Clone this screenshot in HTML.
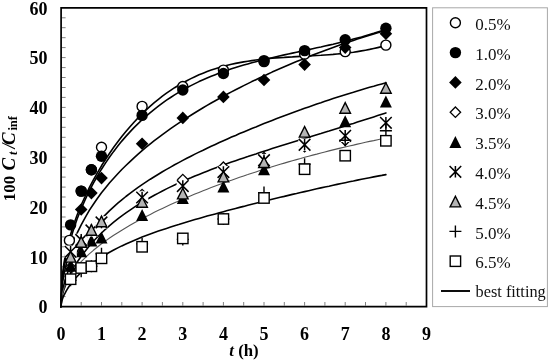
<!DOCTYPE html><html><head><meta charset="utf-8"><style>html,body{margin:0;padding:0;background:#fff;}svg{display:block}</style></head><body>
<svg width="550" height="361" viewBox="0 0 550 361">
<rect x="0" y="0" width="550" height="361" fill="#fff"/>
<path d="M62 296.6h3.6 M62 286.7h3.6 M62 276.7h3.6 M62 266.8h3.6 M62 256.8h3.6 M62 246.8h3.6 M62 236.9h3.6 M62 226.9h3.6 M62 217.0h3.6 M62 207.0h3.6 M62 197.0h3.6 M62 187.1h3.6 M62 177.1h3.6 M62 167.2h3.6 M62 157.2h3.6 M62 147.2h3.6 M62 137.3h3.6 M62 127.3h3.6 M62 117.4h3.6 M62 107.4h3.6 M62 97.4h3.6 M62 87.5h3.6 M62 77.5h3.6 M62 67.6h3.6 M62 57.6h3.6 M62 47.6h3.6 M62 37.7h3.6 M62 27.7h3.6 M62 17.8h3.6 M81.2 305.6v-3.6 M101.5 305.6v-3.6 M121.8 305.6v-3.6 M142.1 305.6v-3.6 M162.4 305.6v-3.6 M182.8 305.6v-3.6 M203.1 305.6v-3.6 M223.4 305.6v-3.6 M243.7 305.6v-3.6 M264.0 305.6v-3.6 M284.3 305.6v-3.6 M304.6 305.6v-3.6 M324.9 305.6v-3.6 M345.2 305.6v-3.6 M365.5 305.6v-3.6 M385.9 305.6v-3.6 M406.2 305.6v-3.6" stroke="#808080" stroke-width="1" fill="none"/>
<path d="M60.9 306.6 L61.9 280.5 L62.9 270.8 L63.9 263.5 L65.0 257.6 L66.0 252.4 L67.0 247.8 L68.0 243.6 L69.0 239.7 L73.1 226.3 L77.1 215.0 L81.2 205.0 L85.3 196.0 L89.3 187.7 L93.4 179.9 L97.5 172.7 L101.5 165.8 L105.6 159.3 L109.6 153.2 L113.7 147.3 L117.8 141.8 L121.8 136.5 L125.9 131.5 L130.0 126.7 L134.0 122.2 L138.1 117.9 L142.1 113.8 L146.2 109.9 L150.3 106.2 L154.3 102.7 L158.4 99.3 L162.4 96.2 L166.5 93.2 L170.6 90.4 L174.6 87.7 L178.7 85.2 L182.8 82.9 L186.8 80.7 L190.9 78.6 L194.9 76.7 L199.0 74.8 L203.1 73.2 L207.1 71.6 L211.2 70.1 L215.3 68.8 L219.3 67.5 L223.4 66.3 L227.4 65.3 L231.5 64.3 L235.6 63.4 L239.6 62.6 L243.7 61.9 L247.8 61.2 L251.8 60.6 L255.9 60.0 L259.9 59.5 L264.0 59.1 L268.1 58.6 L272.1 58.3 L276.2 57.9 L280.2 57.6 L284.3 57.4 L288.4 57.1 L292.4 56.9 L296.5 56.6 L300.6 56.4 L304.6 56.2 L308.7 56.0 L312.7 55.8 L316.8 55.5 L320.9 55.3 L324.9 55.0 L329.0 54.7 L333.1 54.4 L337.1 54.0 L341.2 53.6 L345.2 53.2 L349.3 52.7 L353.4 52.2 L357.4 51.6 L361.5 50.9 L365.5 50.2 L369.6 49.4 L373.7 48.5 L377.7 47.6 L381.8 46.6 L385.9 45.5" stroke="#000" stroke-width="1.6" fill="none" stroke-linejoin="round" stroke-linecap="round"/>
<path d="M60.9 306.6 L61.9 284.7 L62.9 275.6 L63.9 268.7 L65.0 262.8 L66.0 257.7 L67.0 253.0 L68.0 248.7 L69.0 244.7 L73.1 230.7 L77.1 219.0 L81.2 208.7 L85.3 199.4 L89.3 190.9 L93.4 183.2 L97.5 176.0 L101.5 169.2 L105.6 162.9 L109.6 157.0 L113.7 151.4 L117.8 146.1 L121.8 141.1 L125.9 136.4 L130.0 131.9 L134.0 127.6 L138.1 123.6 L142.1 119.7 L146.2 116.1 L150.3 112.6 L154.3 109.3 L158.4 106.1 L162.4 103.1 L166.5 100.2 L170.6 97.5 L174.6 94.9 L178.7 92.4 L182.8 90.0 L186.8 87.8 L190.9 85.6 L194.9 83.6 L199.0 81.6 L203.1 79.8 L207.1 78.0 L211.2 76.3 L215.3 74.7 L219.3 73.1 L223.4 71.6 L227.4 70.2 L231.5 68.8 L235.6 67.5 L239.6 66.3 L243.7 65.1 L247.8 63.9 L251.8 62.8 L255.9 61.7 L259.9 60.6 L264.0 59.6 L268.1 58.6 L272.1 57.7 L276.2 56.7 L280.2 55.8 L284.3 54.9 L288.4 54.0 L292.4 53.1 L296.5 52.2 L300.6 51.4 L304.6 50.5 L308.7 49.6 L312.7 48.7 L316.8 47.8 L320.9 47.0 L324.9 46.0 L329.0 45.1 L333.1 44.2 L337.1 43.2 L341.2 42.2 L345.2 41.2 L349.3 40.2 L353.4 39.1 L357.4 38.0 L361.5 36.9 L365.5 35.7 L369.6 34.5 L373.7 33.3 L377.7 32.0 L381.8 30.7 L385.9 29.3" stroke="#000" stroke-width="1.6" fill="none" stroke-linejoin="round" stroke-linecap="round"/>
<path d="M60.9 306.6 L61.9 288.2 L62.9 280.5 L63.9 274.6 L65.0 269.7 L66.0 265.3 L67.0 261.4 L68.0 257.8 L69.0 254.4 L73.1 242.8 L77.1 233.2 L81.2 224.8 L85.3 217.3 L89.3 210.4 L93.4 204.2 L97.5 198.3 L101.5 192.8 L105.6 187.7 L109.6 182.8 L113.7 178.2 L117.8 173.7 L121.8 169.5 L125.9 165.5 L130.0 161.6 L134.0 157.8 L138.1 154.2 L142.1 150.6 L146.2 147.2 L150.3 143.9 L154.3 140.7 L158.4 137.6 L162.4 134.6 L166.5 131.6 L170.6 128.7 L174.6 125.9 L178.7 123.1 L182.8 120.4 L186.8 117.8 L190.9 115.2 L194.9 112.7 L199.0 110.2 L203.1 107.8 L207.1 105.4 L211.2 103.0 L215.3 100.7 L219.3 98.5 L223.4 96.2 L227.4 94.0 L231.5 91.9 L235.6 89.8 L239.6 87.7 L243.7 85.6 L247.8 83.6 L251.8 81.6 L255.9 79.7 L259.9 77.8 L264.0 75.9 L268.1 74.0 L272.1 72.1 L276.2 70.3 L280.2 68.5 L284.3 66.8 L288.4 65.0 L292.4 63.3 L296.5 61.6 L300.6 60.0 L304.6 58.3 L308.7 56.7 L312.7 55.1 L316.8 53.5 L320.9 52.0 L324.9 50.5 L329.0 49.0 L333.1 47.5 L337.1 46.0 L341.2 44.6 L345.2 43.2 L349.3 41.8 L353.4 40.4 L357.4 39.1 L361.5 37.7 L365.5 36.4 L369.6 35.2 L373.7 33.9 L377.7 32.7 L381.8 31.4 L385.9 30.2" stroke="#000" stroke-width="1.6" fill="none" stroke-linejoin="round" stroke-linecap="round"/>
<path d="M60.9 306.6 L61.9 294.4 L62.9 288.9 L63.9 284.6 L65.0 280.8 L66.0 277.5 L67.0 274.4 L68.0 271.6 L69.0 269.0 L73.1 259.7 L77.1 251.9 L81.2 245.0 L85.3 238.8 L89.3 233.2 L93.4 228.1 L97.5 223.3 L101.5 218.8 L105.6 214.6 L109.6 210.6 L113.7 206.8 L117.8 203.2 L121.8 199.8 L125.9 196.5 L130.0 193.4 L134.0 190.4 L138.1 187.4 L142.1 184.6 L146.2 181.9 L150.3 179.2 L154.3 176.7 L158.4 174.2 L162.4 171.7 L166.5 169.4 L170.6 167.1 L174.6 164.8 L178.7 162.6 L182.8 160.4 L186.8 158.3 L190.9 156.2 L194.9 154.1 L199.0 152.1 L203.1 150.2 L207.1 148.2 L211.2 146.3 L215.3 144.4 L219.3 142.5 L223.4 140.7 L227.4 138.9 L231.5 137.1 L235.6 135.4 L239.6 133.6 L243.7 131.9 L247.8 130.2 L251.8 128.5 L255.9 126.9 L259.9 125.2 L264.0 123.6 L268.1 122.0 L272.1 120.4 L276.2 118.8 L280.2 117.3 L284.3 115.7 L288.4 114.2 L292.4 112.7 L296.5 111.2 L300.6 109.8 L304.6 108.3 L308.7 106.9 L312.7 105.5 L316.8 104.0 L320.9 102.7 L324.9 101.3 L329.0 99.9 L333.1 98.6 L337.1 97.3 L341.2 96.0 L345.2 94.7 L349.3 93.4 L353.4 92.2 L357.4 90.9 L361.5 89.7 L365.5 88.5 L369.6 87.3 L373.7 86.2 L377.7 85.0 L381.8 83.9 L385.9 82.8" stroke="#000" stroke-width="1.6" fill="none" stroke-linejoin="round" stroke-linecap="round"/>
<path d="M60.9 306.6 L61.9 297.4 L62.9 293.1 L63.9 289.6 L65.0 286.6 L66.0 283.9 L67.0 281.4 L68.0 279.0 L69.0 276.8 L73.1 269.0 L77.1 262.3 L81.2 256.3 L85.3 250.9 L89.3 245.9 L93.4 241.3 L97.5 237.0 L101.5 233.0 L105.6 229.2 L109.6 225.6 L113.7 222.2 L117.8 218.9 L121.8 215.8 L125.9 212.9 L130.0 210.1 L134.0 207.4 L138.1 204.8 L142.1 202.2 L146.2 199.8 L150.3 197.5 L154.3 195.2 L158.4 193.1 L162.4 191.0 L166.5 188.9 L170.6 186.9 L174.6 185.0 L178.7 183.1 L182.8 181.3 L186.8 179.5 L190.9 177.8 L194.9 176.0 L199.0 174.4 L203.1 172.8 L207.1 171.2 L211.2 169.6 L215.3 168.0 L219.3 166.5 L223.4 165.1 L227.4 163.6 L231.5 162.1 L235.6 160.7 L239.6 159.3 L243.7 157.9 L247.8 156.6 L251.8 155.2 L255.9 153.9 L259.9 152.5 L264.0 151.2 L268.1 149.9 L272.1 148.6 L276.2 147.3 L280.2 146.1 L284.3 144.8 L288.4 143.5 L292.4 142.3 L296.5 141.0 L300.6 139.7 L304.6 138.5 L308.7 137.2 L312.7 136.0 L316.8 134.7 L320.9 133.5 L324.9 132.2 L329.0 131.0 L333.1 129.7 L337.1 128.4 L341.2 127.2 L345.2 125.9 L349.3 124.6 L353.4 123.4 L357.4 122.1 L361.5 120.8 L365.5 119.5 L369.6 118.2 L373.7 116.9 L377.7 115.6 L381.8 114.2 L385.9 112.9" stroke="#000" stroke-width="1.6" fill="none" stroke-linejoin="round" stroke-linecap="round"/>
<path d="M60.9 306.6 L61.9 296.0 L62.9 291.8 L63.9 288.6 L65.0 285.9 L66.0 283.5 L67.0 281.4 L68.0 279.4 L69.0 277.7 L73.1 271.4 L77.1 266.2 L81.2 261.7 L85.3 257.6 L89.3 253.8 L93.4 250.3 L97.5 247.0 L101.5 243.8 L105.6 240.9 L109.6 238.0 L113.7 235.3 L117.8 232.7 L121.8 230.2 L125.9 227.7 L130.0 225.3 L134.0 223.0 L138.1 220.8 L142.1 218.6 L146.2 216.5 L150.3 214.4 L154.3 212.3 L158.4 210.3 L162.4 208.4 L166.5 206.5 L170.6 204.6 L174.6 202.8 L178.7 201.0 L182.8 199.2 L186.8 197.5 L190.9 195.8 L194.9 194.1 L199.0 192.4 L203.1 190.8 L207.1 189.2 L211.2 187.6 L215.3 186.1 L219.3 184.6 L223.4 183.1 L227.4 181.6 L231.5 180.2 L235.6 178.7 L239.6 177.3 L243.7 175.9 L247.8 174.6 L251.8 173.2 L255.9 171.9 L259.9 170.6 L264.0 169.3 L268.1 168.0 L272.1 166.8 L276.2 165.5 L280.2 164.3 L284.3 163.1 L288.4 161.9 L292.4 160.7 L296.5 159.6 L300.6 158.5 L304.6 157.3 L308.7 156.2 L312.7 155.1 L316.8 154.1 L320.9 153.0 L324.9 152.0 L329.0 150.9 L333.1 149.9 L337.1 148.9 L341.2 147.9 L345.2 147.0 L349.3 146.0 L353.4 145.1 L357.4 144.1 L361.5 143.2 L365.5 142.3 L369.6 141.4 L373.7 140.6 L377.7 139.7 L381.8 138.8 L385.9 138.0" stroke="#555" stroke-width="1.1" fill="none" stroke-linejoin="round" stroke-linecap="round"/>
<path d="M60.9 306.6 L61.9 300.7 L62.9 297.7 L63.9 295.4 L65.0 293.3 L66.0 291.4 L67.0 289.6 L68.0 288.0 L69.0 286.5 L73.1 281.1 L77.1 276.5 L81.2 272.4 L85.3 268.8 L89.3 265.5 L93.4 262.4 L97.5 259.6 L101.5 257.0 L105.6 254.5 L109.6 252.2 L113.7 250.0 L117.8 247.9 L121.8 245.9 L125.9 244.0 L130.0 242.2 L134.0 240.5 L138.1 238.8 L142.1 237.1 L146.2 235.6 L150.3 234.1 L154.3 232.6 L158.4 231.1 L162.4 229.7 L166.5 228.4 L170.6 227.0 L174.6 225.7 L178.7 224.5 L182.8 223.2 L186.8 222.0 L190.9 220.8 L194.9 219.6 L199.0 218.4 L203.1 217.2 L207.1 216.1 L211.2 215.0 L215.3 213.9 L219.3 212.8 L223.4 211.7 L227.4 210.6 L231.5 209.5 L235.6 208.4 L239.6 207.4 L243.7 206.4 L247.8 205.3 L251.8 204.3 L255.9 203.3 L259.9 202.3 L264.0 201.3 L268.1 200.3 L272.1 199.3 L276.2 198.3 L280.2 197.3 L284.3 196.4 L288.4 195.4 L292.4 194.4 L296.5 193.5 L300.6 192.5 L304.6 191.6 L308.7 190.7 L312.7 189.8 L316.8 188.8 L320.9 187.9 L324.9 187.0 L329.0 186.2 L333.1 185.3 L337.1 184.4 L341.2 183.5 L345.2 182.7 L349.3 181.8 L353.4 181.0 L357.4 180.1 L361.5 179.3 L365.5 178.5 L369.6 177.7 L373.7 176.9 L377.7 176.1 L381.8 175.4 L385.9 174.6" stroke="#000" stroke-width="1.6" fill="none" stroke-linejoin="round" stroke-linecap="round"/>
<circle cx="69.4" cy="240.4" r="5" fill="#fff" stroke="#000" stroke-width="1.4"/>
<circle cx="81.2" cy="191.1" r="5" fill="#fff" stroke="#000" stroke-width="1.4"/>
<circle cx="91.4" cy="169.7" r="5" fill="#fff" stroke="#000" stroke-width="1.4"/>
<circle cx="101.5" cy="147.2" r="5" fill="#fff" stroke="#000" stroke-width="1.4"/>
<circle cx="142.1" cy="106.4" r="5" fill="#fff" stroke="#000" stroke-width="1.4"/>
<circle cx="182.8" cy="86.5" r="5" fill="#fff" stroke="#000" stroke-width="1.4"/>
<circle cx="223.4" cy="70.1" r="5" fill="#fff" stroke="#000" stroke-width="1.4"/>
<circle cx="264.0" cy="61.6" r="5" fill="#fff" stroke="#000" stroke-width="1.4"/>
<circle cx="304.6" cy="54.1" r="5" fill="#fff" stroke="#000" stroke-width="1.4"/>
<circle cx="345.2" cy="51.6" r="5" fill="#fff" stroke="#000" stroke-width="1.4"/>
<circle cx="385.9" cy="45.1" r="5" fill="#fff" stroke="#000" stroke-width="1.4"/>
<circle cx="70.6" cy="224.9" r="5.7" fill="#000"/>
<circle cx="81.2" cy="191.1" r="5.7" fill="#000"/>
<circle cx="91.4" cy="169.7" r="5.7" fill="#000"/>
<circle cx="101.5" cy="156.2" r="5.7" fill="#000"/>
<circle cx="142.1" cy="115.4" r="5.7" fill="#000"/>
<circle cx="182.8" cy="90.0" r="5.7" fill="#000"/>
<circle cx="223.4" cy="73.5" r="5.7" fill="#000"/>
<circle cx="264.0" cy="60.6" r="5.7" fill="#000"/>
<circle cx="304.6" cy="50.6" r="5.7" fill="#000"/>
<circle cx="345.2" cy="39.7" r="5.7" fill="#000"/>
<circle cx="385.9" cy="28.2" r="5.7" fill="#000"/>
<path d="M81.2 203.2L87.5 209.5L81.2 215.8L74.9 209.5Z" fill="#000"/>
<path d="M91.4 186.8L97.7 193.1L91.4 199.4L85.1 193.1Z" fill="#000"/>
<path d="M101.5 171.8L107.8 178.1L101.5 184.4L95.2 178.1Z" fill="#000"/>
<path d="M142.1 137.5L148.4 143.8L142.1 150.1L135.8 143.8Z" fill="#000"/>
<path d="M182.8 111.6L189.1 117.9L182.8 124.2L176.5 117.9Z" fill="#000"/>
<path d="M223.4 90.6L229.7 96.9L223.4 103.2L217.1 96.9Z" fill="#000"/>
<path d="M264.0 73.7L270.3 80.0L264.0 86.3L257.7 80.0Z" fill="#000"/>
<path d="M304.6 58.3L310.9 64.6L304.6 70.9L298.3 64.6Z" fill="#000"/>
<path d="M345.2 41.3L351.5 47.6L345.2 53.9L338.9 47.6Z" fill="#000"/>
<path d="M385.9 27.4L392.2 33.7L385.9 40.0L379.6 33.7Z" fill="#000"/>
<path d="M70.6 262.1L75.8 267.3L70.6 272.5L65.4 267.3Z" fill="#fff" stroke="#000" stroke-width="1.3"/>
<path d="M81.2 234.7L86.4 239.9L81.2 245.1L76.0 239.9Z" fill="#fff" stroke="#000" stroke-width="1.3"/>
<path d="M91.4 225.2L96.6 230.4L91.4 235.6L86.2 230.4Z" fill="#fff" stroke="#000" stroke-width="1.3"/>
<path d="M101.5 217.2L106.7 222.4L101.5 227.6L96.3 222.4Z" fill="#fff" stroke="#000" stroke-width="1.3"/>
<path d="M142.1 189.4L147.3 194.6L142.1 199.8L136.9 194.6Z" fill="#fff" stroke="#000" stroke-width="1.3"/>
<path d="M182.8 174.4L188.0 179.6L182.8 184.8L177.6 179.6Z" fill="#fff" stroke="#000" stroke-width="1.3"/>
<path d="M223.4 162.0L228.6 167.2L223.4 172.4L218.2 167.2Z" fill="#fff" stroke="#000" stroke-width="1.3"/>
<path d="M264.0 152.5L269.2 157.7L264.0 162.9L258.8 157.7Z" fill="#fff" stroke="#000" stroke-width="1.3"/>
<path d="M304.6 141.5L309.8 146.7L304.6 151.9L299.4 146.7Z" fill="#fff" stroke="#000" stroke-width="1.3"/>
<path d="M345.2 135.1L350.4 140.3L345.2 145.5L340.0 140.3Z" fill="#fff" stroke="#000" stroke-width="1.3"/>
<path d="M385.9 117.6L391.1 122.8L385.9 128.0L380.7 122.8Z" fill="#fff" stroke="#000" stroke-width="1.3"/>
<path d="M70.6 259.8L76.6 271.8L64.6 271.8Z" fill="#000"/>
<path d="M81.2 245.3L87.2 257.3L75.2 257.3Z" fill="#000"/>
<path d="M91.4 234.4L97.4 246.4L85.4 246.4Z" fill="#000"/>
<path d="M101.5 231.4L107.5 243.4L95.5 243.4Z" fill="#000"/>
<path d="M142.1 209.0L148.1 221.0L136.1 221.0Z" fill="#000"/>
<path d="M182.8 192.0L188.8 204.0L176.8 204.0Z" fill="#000"/>
<path d="M223.4 180.6L229.4 192.6L217.4 192.6Z" fill="#000"/>
<path d="M264.0 163.2L270.0 175.2L258.0 175.2Z" fill="#000"/>
<path d="M304.6 138.8L310.6 150.8L298.6 150.8Z" fill="#000"/>
<path d="M345.2 115.3L351.2 127.3L339.2 127.3Z" fill="#000"/>
<path d="M385.9 95.4L391.9 107.4L379.9 107.4Z" fill="#000"/>
<rect x="64.4" y="245.6" width="12.4" height="12.4" fill="#fff"/><path d="M64.8 246.0L76.4 257.6M76.4 246.0L64.8 257.6M70.6 246.0V257.6" stroke="#000" stroke-width="1.5" fill="none"/>
<rect x="75.0" y="233.7" width="12.4" height="12.4" fill="#fff"/><path d="M75.4 234.1L87.0 245.7M87.0 234.1L75.4 245.7M81.2 234.1V245.7" stroke="#000" stroke-width="1.5" fill="none"/>
<rect x="85.2" y="224.2" width="12.4" height="12.4" fill="#fff"/><path d="M85.6 224.6L97.2 236.2M97.2 224.6L85.6 236.2M91.4 224.6V236.2" stroke="#000" stroke-width="1.5" fill="none"/>
<rect x="95.3" y="216.2" width="12.4" height="12.4" fill="#fff"/><path d="M95.7 216.6L107.3 228.2M107.3 216.6L95.7 228.2M101.5 216.6V228.2" stroke="#000" stroke-width="1.5" fill="none"/>
<rect x="135.9" y="191.3" width="12.4" height="12.4" fill="#fff"/><path d="M136.3 191.7L147.9 203.3M147.9 191.7L136.3 203.3M142.1 191.7V203.3" stroke="#000" stroke-width="1.5" fill="none"/>
<rect x="176.6" y="179.9" width="12.4" height="12.4" fill="#fff"/><path d="M177.0 180.3L188.6 191.9M188.6 180.3L177.0 191.9M182.8 180.3V191.9" stroke="#000" stroke-width="1.5" fill="none"/>
<rect x="217.2" y="165.9" width="12.4" height="12.4" fill="#fff"/><path d="M217.6 166.3L229.2 177.9M229.2 166.3L217.6 177.9M223.4 166.3V177.9" stroke="#000" stroke-width="1.5" fill="none"/>
<rect x="257.8" y="154.0" width="12.4" height="12.4" fill="#fff"/><path d="M258.2 154.4L269.8 166.0M269.8 154.4L258.2 166.0M264.0 154.4V166.0" stroke="#000" stroke-width="1.5" fill="none"/>
<rect x="298.4" y="138.6" width="12.4" height="12.4" fill="#fff"/><path d="M298.8 138.9L310.4 150.6M310.4 138.9L298.8 150.6M304.6 138.9V150.6" stroke="#000" stroke-width="1.5" fill="none"/>
<rect x="339.0" y="129.6" width="12.4" height="12.4" fill="#fff"/><path d="M339.4 130.0L351.0 141.6M351.0 130.0L339.4 141.6M345.2 130.0V141.6" stroke="#000" stroke-width="1.5" fill="none"/>
<rect x="379.7" y="116.6" width="12.4" height="12.4" fill="#fff"/><path d="M380.1 117.0L391.7 128.6M391.7 117.0L380.1 128.6M385.9 117.0V128.6" stroke="#000" stroke-width="1.5" fill="none"/>
<path d="M70.6 251.5L75.9 262.1L65.3 262.1Z" fill="#b4b4b4" stroke="#000" stroke-width="1.4" stroke-linejoin="miter"/>
<path d="M81.2 236.6L86.5 247.2L75.9 247.2Z" fill="#b4b4b4" stroke="#000" stroke-width="1.4" stroke-linejoin="miter"/>
<path d="M91.4 224.6L96.7 235.2L86.1 235.2Z" fill="#b4b4b4" stroke="#000" stroke-width="1.4" stroke-linejoin="miter"/>
<path d="M101.5 216.1L106.8 226.7L96.2 226.7Z" fill="#b4b4b4" stroke="#000" stroke-width="1.4" stroke-linejoin="miter"/>
<path d="M142.1 196.7L147.4 207.3L136.8 207.3Z" fill="#b4b4b4" stroke="#000" stroke-width="1.4" stroke-linejoin="miter"/>
<path d="M182.8 188.3L188.1 198.9L177.5 198.9Z" fill="#b4b4b4" stroke="#000" stroke-width="1.4" stroke-linejoin="miter"/>
<path d="M223.4 171.3L228.7 181.9L218.1 181.9Z" fill="#b4b4b4" stroke="#000" stroke-width="1.4" stroke-linejoin="miter"/>
<path d="M264.0 156.9L269.3 167.5L258.7 167.5Z" fill="#b4b4b4" stroke="#000" stroke-width="1.4" stroke-linejoin="miter"/>
<path d="M304.6 126.5L309.9 137.1L299.3 137.1Z" fill="#b4b4b4" stroke="#000" stroke-width="1.4" stroke-linejoin="miter"/>
<path d="M345.2 102.6L350.5 113.2L339.9 113.2Z" fill="#b4b4b4" stroke="#000" stroke-width="1.4" stroke-linejoin="miter"/>
<path d="M385.9 82.7L391.2 93.3L380.6 93.3Z" fill="#b4b4b4" stroke="#000" stroke-width="1.4" stroke-linejoin="miter"/>
<path d="M64.6 280.2H76.6M70.6 274.2V286.2" stroke="#000" stroke-width="1.4" fill="none"/>
<path d="M75.2 271.2H87.2M81.2 265.2V277.2" stroke="#000" stroke-width="1.4" fill="none"/>
<path d="M85.4 266.3H97.4M91.4 260.3V272.3" stroke="#000" stroke-width="1.4" fill="none"/>
<path d="M95.5 253.8H107.5M101.5 247.8V259.8" stroke="#000" stroke-width="1.4" fill="none"/>
<path d="M136.1 243.9H148.1M142.1 237.9V249.9" stroke="#000" stroke-width="1.4" fill="none"/>
<path d="M176.8 239.4H188.8M182.8 233.4V245.4" stroke="#000" stroke-width="1.4" fill="none"/>
<path d="M217.4 219.0H229.4M223.4 213.0V225.0" stroke="#000" stroke-width="1.4" fill="none"/>
<path d="M258.0 192.6H270.0M264.0 186.6V198.6" stroke="#000" stroke-width="1.4" fill="none"/>
<path d="M298.6 164.2H310.6M304.6 158.2V170.2" stroke="#000" stroke-width="1.4" fill="none"/>
<path d="M339.2 140.3H351.2M345.2 134.3V146.3" stroke="#000" stroke-width="1.4" fill="none"/>
<path d="M379.9 130.8H391.9M385.9 124.8V136.8" stroke="#000" stroke-width="1.4" fill="none"/>
<rect x="65.4" y="274.0" width="10.4" height="10.4" fill="#fff" stroke="#000" stroke-width="1.4"/>
<rect x="76.0" y="262.8" width="10.4" height="10.4" fill="#fff" stroke="#000" stroke-width="1.4"/>
<rect x="86.2" y="261.1" width="10.4" height="10.4" fill="#fff" stroke="#000" stroke-width="1.4"/>
<rect x="96.3" y="253.1" width="10.4" height="10.4" fill="#fff" stroke="#000" stroke-width="1.4"/>
<rect x="136.9" y="241.6" width="10.4" height="10.4" fill="#fff" stroke="#000" stroke-width="1.4"/>
<rect x="177.6" y="233.2" width="10.4" height="10.4" fill="#fff" stroke="#000" stroke-width="1.4"/>
<rect x="218.2" y="213.8" width="10.4" height="10.4" fill="#fff" stroke="#000" stroke-width="1.4"/>
<rect x="258.8" y="192.8" width="10.4" height="10.4" fill="#fff" stroke="#000" stroke-width="1.4"/>
<rect x="299.4" y="164.0" width="10.4" height="10.4" fill="#fff" stroke="#000" stroke-width="1.4"/>
<rect x="340.0" y="150.5" width="10.4" height="10.4" fill="#fff" stroke="#000" stroke-width="1.4"/>
<rect x="380.7" y="135.6" width="10.4" height="10.4" fill="#fff" stroke="#000" stroke-width="1.4"/>
<path d="M61.1 7.8V306.6H426.5V7.8Z" stroke="#000" stroke-width="1.7" fill="none"/>
<text x="47.6" y="313.3" text-anchor="end" font-family="Liberation Serif, serif" font-weight="bold" font-size="18" fill="#000">0</text>
<text x="47.6" y="263.5" text-anchor="end" font-family="Liberation Serif, serif" font-weight="bold" font-size="18" fill="#000">10</text>
<text x="47.6" y="213.7" text-anchor="end" font-family="Liberation Serif, serif" font-weight="bold" font-size="18" fill="#000">20</text>
<text x="47.6" y="163.9" text-anchor="end" font-family="Liberation Serif, serif" font-weight="bold" font-size="18" fill="#000">30</text>
<text x="47.6" y="114.1" text-anchor="end" font-family="Liberation Serif, serif" font-weight="bold" font-size="18" fill="#000">40</text>
<text x="47.6" y="64.3" text-anchor="end" font-family="Liberation Serif, serif" font-weight="bold" font-size="18" fill="#000">50</text>
<text x="47.6" y="14.5" text-anchor="end" font-family="Liberation Serif, serif" font-weight="bold" font-size="18" fill="#000">60</text>
<text x="60.9" y="339.9" text-anchor="middle" font-family="Liberation Serif, serif" font-weight="bold" font-size="18" fill="#000">0</text>
<text x="101.5" y="339.9" text-anchor="middle" font-family="Liberation Serif, serif" font-weight="bold" font-size="18" fill="#000">1</text>
<text x="142.1" y="339.9" text-anchor="middle" font-family="Liberation Serif, serif" font-weight="bold" font-size="18" fill="#000">2</text>
<text x="182.8" y="339.9" text-anchor="middle" font-family="Liberation Serif, serif" font-weight="bold" font-size="18" fill="#000">3</text>
<text x="223.4" y="339.9" text-anchor="middle" font-family="Liberation Serif, serif" font-weight="bold" font-size="18" fill="#000">4</text>
<text x="264.0" y="339.9" text-anchor="middle" font-family="Liberation Serif, serif" font-weight="bold" font-size="18" fill="#000">5</text>
<text x="304.6" y="339.9" text-anchor="middle" font-family="Liberation Serif, serif" font-weight="bold" font-size="18" fill="#000">6</text>
<text x="345.2" y="339.9" text-anchor="middle" font-family="Liberation Serif, serif" font-weight="bold" font-size="18" fill="#000">7</text>
<text x="385.9" y="339.9" text-anchor="middle" font-family="Liberation Serif, serif" font-weight="bold" font-size="18" fill="#000">8</text>
<text x="426.5" y="339.9" text-anchor="middle" font-family="Liberation Serif, serif" font-weight="bold" font-size="18" fill="#000">9</text>
<text x="229.3" y="355.6" font-family="Liberation Serif, serif" font-weight="bold" font-size="16.8" fill="#000"><tspan font-style="italic">t</tspan> (h)</text>
<g transform="translate(14.9 200) rotate(-90)"><text x="-1.3" y="0" font-size="17" font-family="Liberation Serif, serif" font-weight="bold" fill="#000">100</text><text x="29.6" y="0" font-size="19" font-style="italic" font-family="Liberation Serif, serif" font-weight="bold" fill="#000">C</text><text x="45.0" y="1.8" font-size="12.5" font-style="italic" font-family="Liberation Serif, serif" font-weight="bold" fill="#000">t</text><text x="51.4" y="0" font-size="18" font-style="italic" font-family="Liberation Serif, serif" font-weight="bold" fill="#000">/</text><text x="55.0" y="0" font-size="19" font-style="italic" font-family="Liberation Serif, serif" font-weight="bold" fill="#000">C</text><text x="69.4" y="1.8" font-size="12.5" font-family="Liberation Serif, serif" font-weight="bold" fill="#000">inf</text></g>
<rect x="432.6" y="7.8" width="114.8" height="298.8" fill="none" stroke="#a8a8a8" stroke-width="1"/>
<circle cx="455.4" cy="22.8" r="5" fill="#fff" stroke="#000" stroke-width="1.4"/>
<text x="475.3" y="29.9" font-family="Liberation Serif, serif" font-size="17" fill="#111">0.5%</text>
<circle cx="455.4" cy="52.6" r="5.7" fill="#000"/>
<text x="475.3" y="59.7" font-family="Liberation Serif, serif" font-size="17" fill="#111">1.0%</text>
<path d="M455.4 76.1L461.7 82.4L455.4 88.7L449.1 82.4Z" fill="#000"/>
<text x="475.3" y="89.5" font-family="Liberation Serif, serif" font-size="17" fill="#111">2.0%</text>
<path d="M455.4 107.0L460.6 112.2L455.4 117.4L450.2 112.2Z" fill="#fff" stroke="#000" stroke-width="1.3"/>
<text x="475.3" y="119.3" font-family="Liberation Serif, serif" font-size="17" fill="#111">3.0%</text>
<path d="M455.4 136.0L461.4 148.0L449.4 148.0Z" fill="#000"/>
<text x="475.3" y="149.1" font-family="Liberation Serif, serif" font-size="17" fill="#111">3.5%</text>
<rect x="449.2" y="165.6" width="12.4" height="12.4" fill="#fff"/><path d="M449.6 166.0L461.2 177.6M461.2 166.0L449.6 177.6M455.4 166.0V177.6" stroke="#000" stroke-width="1.5" fill="none"/>
<text x="475.3" y="178.9" font-family="Liberation Serif, serif" font-size="17" fill="#111">4.0%</text>
<path d="M455.4 196.3L460.7 206.9L450.1 206.9Z" fill="#b4b4b4" stroke="#000" stroke-width="1.4" stroke-linejoin="miter"/>
<text x="475.3" y="208.7" font-family="Liberation Serif, serif" font-size="17" fill="#111">4.5%</text>
<path d="M449.4 231.4H461.4M455.4 225.4V237.4" stroke="#000" stroke-width="1.4" fill="none"/>
<text x="475.3" y="238.5" font-family="Liberation Serif, serif" font-size="17" fill="#111">5.0%</text>
<rect x="450.2" y="256.0" width="10.4" height="10.4" fill="#fff" stroke="#000" stroke-width="1.4"/>
<text x="475.3" y="268.3" font-family="Liberation Serif, serif" font-size="17" fill="#111">6.5%</text>
<path d="M441 291.0H470" stroke="#000" stroke-width="1.9"/>
<text x="475.6" y="297.0" font-family="Liberation Serif, serif" font-size="16.3" fill="#111">best fitting</text>
</svg></body></html>
